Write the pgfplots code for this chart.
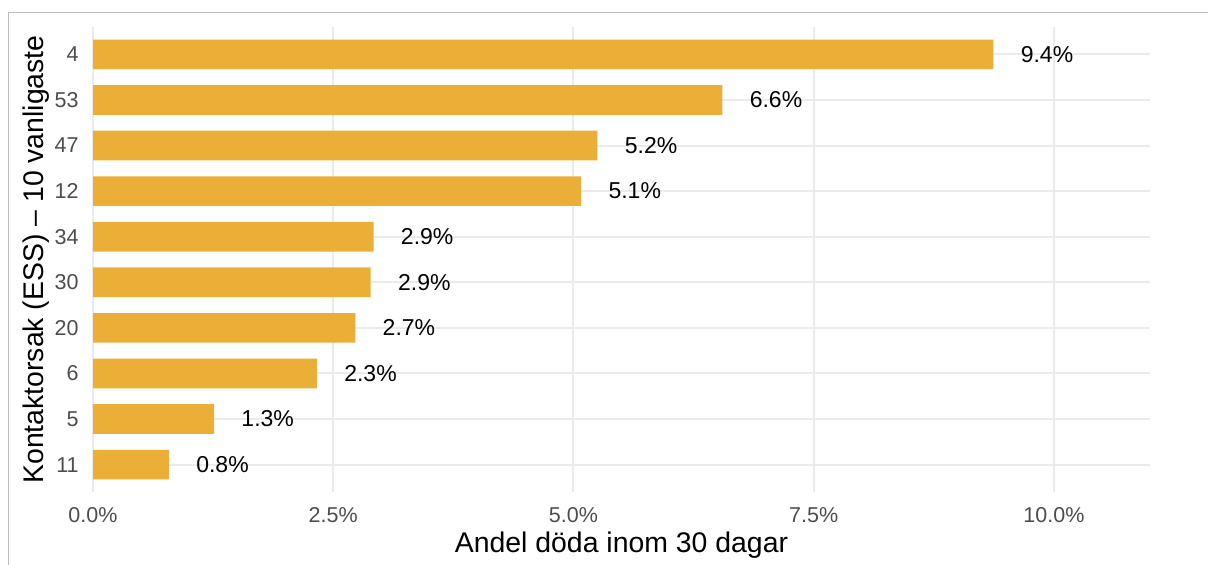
\documentclass[border=0pt]{standalone}
\usepackage{pgfplots}
\pgfplotsset{compat=1.18}
\usepackage{fontspec}
\setmainfont{Liberation Sans}
\definecolor{barc}{RGB}{235,174,55}
\definecolor{gridc}{RGB}{235,235,235}
\definecolor{tickc}{RGB}{77,77,77}
\definecolor{framec}{RGB}{192,192,192}
\begin{document}
\begin{tikzpicture}
\useasboundingbox (0,0) rectangle (604pt,282.5pt);
\draw[framec, line width=0.75pt] (4.15pt,0) -- (4.15pt,276.15pt) -- (604pt,276.15pt);
\begin{axis}[
 at={(46.5pt,36.5pt)}, anchor=south west,
 scale only axis, width=528.5pt, height=232.5pt,
 xmin=0, xmax=11, ymin=-0.6, ymax=9.6,
 axis line style={draw=none}, major tick length=0pt,
 xtick={0,2.5,5,7.5,10}, xticklabels={0.0\%,2.5\%,5.0\%,7.5\%,10.0\%},
 ytick={0,...,9}, yticklabels={11,5,6,20,30,34,12,47,53,4},
 grid=major, major grid style={gridc, line width=1pt},
 ticklabel style={font=\fontsize{10.75}{12}\selectfont, text=tickc, inner sep=0pt},
 xticklabel style={anchor=north, yshift=-7.5pt},
 yticklabel style={anchor=east, xshift=-7pt},
 xbar, bar width=0.65,
 nodes near coords={\pgfplotspointmeta\%}, point meta=explicit symbolic,
 every node near coord/.append style={anchor=west, xshift=13.5pt, inner sep=0pt, font=\fontsize{11.5}{13}\selectfont, text=black},
]
\addplot[fill=barc, draw=none] table[x=v, y=y, meta=l] {
y v l
9 9.37 9.4
8 6.55 6.6
7 5.25 5.2
6 5.08 5.1
5 2.92 2.9
4 2.89 2.9
3 2.73 2.7
2 2.33 2.3
1 1.26 1.3
0 0.79 0.8
};
\end{axis}
\node[anchor=base, inner sep=0pt, font=\fontsize{14.2}{16}\selectfont] at (310.75pt,6pt) {Andel döda inom 30 dagar};
\node[anchor=base, rotate=90, inner sep=0pt, font=\fontsize{14.2}{16}\selectfont] at (21.5pt,152.75pt) {Kontaktorsak (ESS) – 10 vanligaste};
\end{tikzpicture}
\end{document}
